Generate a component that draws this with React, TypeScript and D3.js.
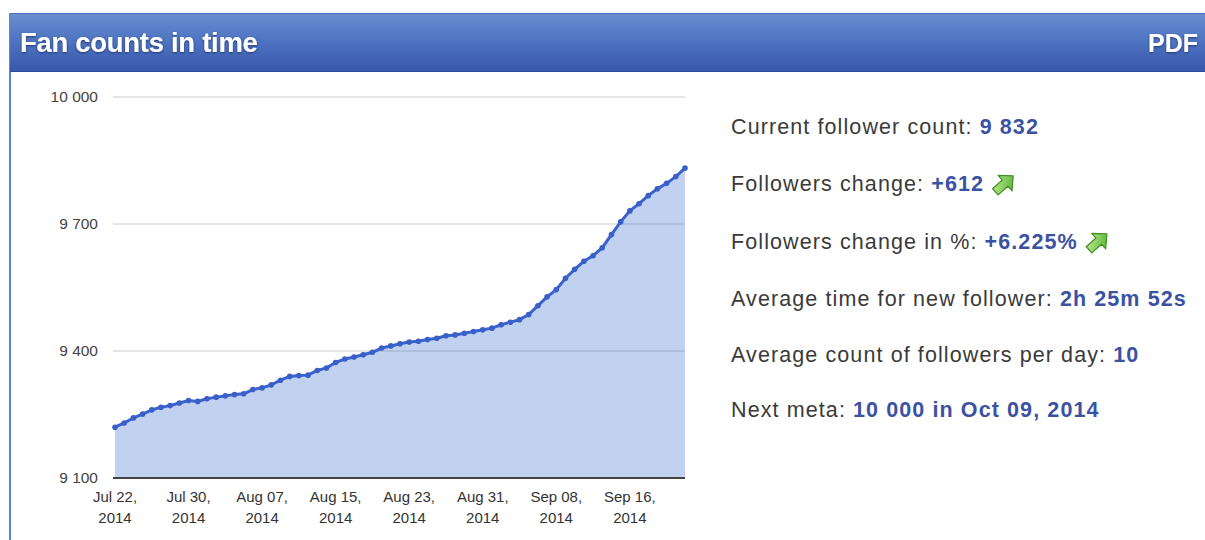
import React, { useLayoutEffect, useRef, useState } from "react";
import * as d3 from "d3";

// ---------- data ----------
const title = "Fan counts in time";
const exportLabel = "PDF";
const startDate = "2014-07-22";
const followerCounts = [
  9220, 9230, 9242, 9251, 9261, 9267, 9271, 9277, 9283, 9281,
  9287, 9291, 9294, 9297, 9299, 9309, 9313, 9320, 9331, 9340,
  9342, 9343, 9354, 9360, 9373, 9381, 9386, 9391, 9397, 9407,
  9412, 9417, 9421, 9423, 9427, 9430, 9436, 9438, 9442, 9446,
  9450, 9454, 9462, 9468, 9474, 9486, 9507, 9528, 9545, 9572,
  9593, 9612, 9625, 9644, 9675, 9705, 9731, 9748, 9767, 9783,
  9796, 9812, 9832,
];
const yTicks = [9100, 9400, 9700, 10000];
const xTickDates = [
  "2014-07-22", "2014-07-30", "2014-08-07", "2014-08-15",
  "2014-08-23", "2014-08-31", "2014-09-08", "2014-09-16",
];
const statLabels = [
  "Current follower count: ",
  "Followers change: ",
  "Followers change in %: ",
  "Average time for new follower: ",
  "Average count of followers per day: ",
  "Next meta: ",
];
const statValues = ["9 832", "+612", "+6.225%", "2h 25m 52s", "10", "10 000 in Oct 09, 2014"];
const statArrows = [false, true, true, false, false, false];

// ---------- layout ----------
const W = 1205;
const H = 540;
const plotLeft = 115;
const plotRight = 685;
const plotTop = 97;
const plotBottom = 478;
const statX = 731;
const statRowY = [126, 183, 241, 298, 354, 409];
const FONT = "'Liberation Sans', Arial, Helvetica, sans-serif";

const parse = d3.timeParse("%Y-%m-%d");

export default function App() {
  const start = parse(startDate) as Date;
  const points = followerCounts.map((v, i) => ({ date: d3.timeDay.offset(start, i), value: v }));
  const x = d3
    .scaleTime()
    .domain([start, points[points.length - 1].date])
    .range([plotLeft, plotRight]);
  const y = d3.scaleLinear().domain([9100, 10000]).range([plotBottom, plotTop]);

  const line = d3
    .line<{ date: Date; value: number }>()
    .x((d) => x(d.date))
    .y((d) => y(d.value));
  const area = d3
    .area<{ date: Date; value: number }>()
    .x((d) => x(d.date))
    .y0(y(9100))
    .y1((d) => y(d.value));

  const fmtY = (v: number) => d3.format(",")(v).replace(/,/g, " ");
  const fmtMD = d3.timeFormat("%b %d,");
  const fmtY4 = d3.timeFormat("%Y");

  const textRefs = useRef<(SVGTextElement | null)[]>([]);
  const [arrowX, setArrowX] = useState<number[]>(statLabels.map(() => 0));
  useLayoutEffect(() => {
    setArrowX(
      textRefs.current.map((t) => (t ? statX + t.getComputedTextLength() : 0))
    );
  }, []);

  const arrowPath =
    "M-9,-3.2 L1,-3.2 L1,-8 L9.5,0 L1,8 L1,3.2 L-9,3.2 Z";

  return (
    <div style={{ position: "absolute", left: 0, top: 0, width: W, height: H, background: "#fff" }}>
      <svg width={W} height={H} style={{ display: "block" }}>
        <defs>
          <linearGradient id="hdr" x1="0" y1="0" x2="0" y2="1">
            <stop offset="0" stopColor="#6a8fd2" />
            <stop offset="0.5" stopColor="#4d72c0" />
            <stop offset="1" stopColor="#3856ab" />
          </linearGradient>
          <linearGradient id="arr" x1="0" y1="0" x2="1" y2="1">
            <stop offset="0" stopColor="#c9f29a" />
            <stop offset="1" stopColor="#47a82a" />
          </linearGradient>
          <filter id="tshadow" x="-10%" y="-30%" width="120%" height="160%">
            <feDropShadow dx="0" dy="1" stdDeviation="0.8" floodColor="#1a2a5a" floodOpacity="0.8" />
          </filter>
        </defs>

        {/* frame */}
        <line x1={10} y1={13} x2={10} y2={H} stroke="#5a88d6" strokeWidth={2} />
        <rect x={10} y={13} width={W - 10} height={59} fill="url(#hdr)" />
        <line x1={10} y1={13.5} x2={W} y2={13.5} stroke="#4b70bf" strokeWidth={1} />
        <line x1={10} y1={71.5} x2={W} y2={71.5} stroke="#2f4c9a" strokeWidth={1} />
        <text
          x={20}
          y={52}
          fill="#fff"
          fontFamily={FONT}
          fontWeight="bold"
          fontSize={27.5}
          letterSpacing={-0.3}
          filter="url(#tshadow)"
        >
          {title}
        </text>
        <text
          x={1198}
          y={52}
          fill="#fff"
          fontFamily={FONT}
          fontWeight="bold"
          fontSize={25}
          textAnchor="end"
          filter="url(#tshadow)"
        >
          {exportLabel}
        </text>

        {/* gridlines */}
        {yTicks
          .filter((t) => t !== 9100)
          .map((t) => (
            <line key={t} x1={plotLeft - 2} x2={plotRight} y1={y(t)} y2={y(t)} stroke="#cccccc" strokeWidth={1} />
          ))}

        {/* area + line + dots */}
        <path d={area(points) || ""} fill="#3366cc" fillOpacity={0.3} />
        <path d={line(points) || ""} fill="none" stroke="#3a62cc" strokeWidth={3} />
        {points.map((p, i) => (
          <circle key={i} cx={x(p.date)} cy={y(p.value)} r={2.8} fill="#3a5fc8" />
        ))}

        {/* baseline */}
        <line x1={plotLeft - 2} x2={plotRight} y1={y(9100)} y2={y(9100)} stroke="#444" strokeWidth={2} />

        {/* y labels */}
        {yTicks.map((t) => (
          <text
            key={t}
            x={98}
            y={y(t) + 5}
            textAnchor="end"
            fontFamily={FONT}
            fontSize={15.5}
            fill="#444"
          >
            {fmtY(t)}
          </text>
        ))}

        {/* x labels */}
        {xTickDates.map((s) => {
          const d = parse(s) as Date;
          return (
            <text key={s} textAnchor="middle" fontFamily={FONT} fontSize={15} fill="#333">
              <tspan x={x(d)} y={502}>
                {fmtMD(d)}
              </tspan>
              <tspan x={x(d)} y={523}>
                {fmtY4(d)}
              </tspan>
            </text>
          );
        })}

        {/* stats */}
        {statLabels.map((lab, i) => (
          <text
            key={lab}
            ref={(el) => {
              textRefs.current[i] = el;
            }}
            x={statX}
            y={statRowY[i] + 7.5}
            fontFamily={FONT}
            fontSize={21.5}
            letterSpacing={1.1}
            fill="#3a3a3a"
          >
            {lab}
            <tspan fontWeight="bold" fill="#3b52a3">
              {statValues[i]}
            </tspan>
          </text>
        ))}
        {statArrows.map((a, i) =>
          a && arrowX[i] ? (
            <g
              key={i}
              transform={`translate(${arrowX[i] + 20},${statRowY[i] + 1}) rotate(-42) scale(1.3)`}
            >
              <path d={arrowPath} fill="url(#arr)" stroke="#3f8f22" strokeWidth={0.9} strokeLinejoin="round" />
            </g>
          ) : null
        )}
      </svg>
    </div>
  );
}
